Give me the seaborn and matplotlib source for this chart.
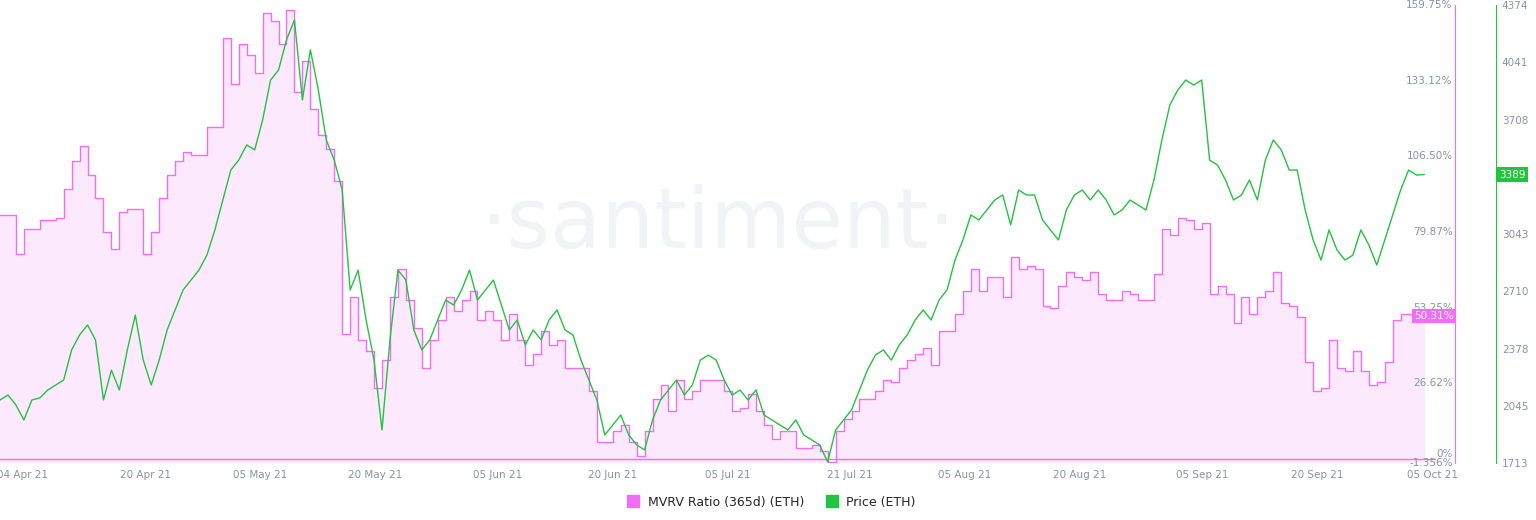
import numpy as np
import pandas as pd
import matplotlib
matplotlib.use('Agg')
import matplotlib.pyplot as plt
import matplotlib.transforms as mtransforms
import seaborn as sns
from matplotlib.lines import Line2D

# ---- data ----
mvrv = [86, 86, 72, 81, 81, 84, 84, 85,
        95, 105, 110, 100, 92, 80, 74, 87, 88, 88, 72, 80, 92, 100, 105, 108, 107, 107, 117, 117,
        148, 132, 146, 142, 136, 157, 154, 146, 158, 129, 140, 123, 114, 109, 98, 44, 57, 42, 38, 25,
        35, 57, 67, 56, 46, 32, 42, 49, 57, 52, 56, 59, 49, 52, 49, 42, 51, 42, 33, 37, 45, 40, 42,
        32, 32, 32, 24, 6, 6, 10, 12, 6, 1, 10, 21, 26, 17, 28, 21, 24, 28, 28, 28, 24, 17, 18, 23,
        17, 12, 7, 10, 10, 4, 4, 5, 3, -1, 10, 14, 17, 21, 21, 24, 28, 27, 32, 35, 37, 39, 33, 45, 45,
        51, 59, 67, 59, 64, 64, 57, 71, 67, 68, 67, 54, 53, 61, 66, 64, 63, 66, 58, 56, 56, 59, 58, 56,
        56, 65, 81, 79, 85, 84, 81, 83, 58, 61, 58, 48, 57, 51, 57, 59, 66, 55, 54, 50, 34, 24, 25, 42,
        32, 31, 38, 31, 26, 27, 34, 49, 51, 51, 50.3, 50.31]
price = [2079, 2108, 2050, 1963, 2079, 2091, 2137, 2166, 2195, 2370, 2457, 2515, 2428, 2079, 2253,
         2137, 2370, 2573, 2311, 2166, 2311, 2486, 2602, 2718, 2776, 2834, 2921, 3067, 3241, 3415,
         3473, 3561, 3532, 3706, 3938, 3996, 4171, 4287, 3822, 4113, 3880, 3590, 3473, 3299, 2718,
         2834, 2544, 2311, 1905, 2428, 2834, 2776, 2486, 2370, 2428, 2544, 2660, 2631, 2718, 2834,
         2660, 2718, 2776, 2631, 2486, 2544, 2399, 2486, 2428, 2544, 2602, 2486, 2457, 2311, 2195,
         2079, 1876, 1934, 1992, 1876, 1818, 1789, 1963, 2079, 2137, 2195, 2108, 2166, 2311, 2340,
         2311, 2195, 2108, 2137, 2079, 2137, 1992, 1963, 1934, 1905, 1963, 1876, 1847, 1818, 1719,
         1905, 1963, 2021, 2137, 2253, 2340, 2370, 2311, 2399, 2457, 2544, 2602, 2544, 2660, 2718,
         2892, 3009, 3154, 3125, 3183, 3241, 3270, 3096, 3299, 3270, 3270, 3125, 3067, 3009, 3183,
         3270, 3299, 3241, 3299, 3241, 3154, 3183, 3241, 3212, 3183, 3357, 3590, 3793, 3880, 3938,
         3909, 3938, 3473, 3444, 3357, 3241, 3270, 3357, 3241, 3473, 3590, 3532, 3415, 3415, 3183,
         3009, 2892, 3067, 2951, 2892, 2921, 3067, 2980, 2863, 3009, 3154, 3299, 3415, 3386, 3389]
dates = pd.date_range('2021-04-01', '2021-10-04', periods=len(mvrv))
x_ticks = ['2021-04-04', '2021-04-20', '2021-05-05', '2021-05-20', '2021-06-05', '2021-06-20',
           '2021-07-05', '2021-07-21', '2021-08-05', '2021-08-20', '2021-09-05', '2021-09-20', '2021-10-05']
mvrv_ticks = [-1.356, 0, 26.62, 53.25, 79.87, 106.50, 133.12, 159.75]
mvrv_labels = ['-1.356%', '0%', '26.62%', '53.25%', '79.87%', '106.50%', '133.12%', '159.75%']
price_ticks = [1713, 2045, 2378, 2710, 3043, 3376, 3708, 4041, 4374]

df = pd.DataFrame({'date': dates, 'mvrv': mvrv, 'price': price})

PINK = '#f26cf5'
FILL = '#fde9fd'
GREEN = '#22c33f'
GREY = '#8a93a6'

sns.set_style('white')
fig = plt.figure(figsize=(15.36, 5.2), dpi=100)
ax = fig.add_axes([0.0, 57 / 520, 1436 / 1536, 458 / 520])
ax2 = ax.twinx()

ax.fill_between(df['date'], df['mvrv'], -1.356, step='post', color=FILL, lw=0)
sns.lineplot(data=df, x='date', y='mvrv', ax=ax, color=PINK, lw=1, drawstyle='steps-post')
ax.axhline(0, color=PINK, lw=1)
sns.lineplot(data=df, x='date', y='price', ax=ax2, color=GREEN, lw=1)

ax.set_xlim(dates[0], pd.Timestamp('2021-10-05 12:00'))
ax.set_ylim(-1.356, 159.75)
ax2.set_ylim(1713, 4374)

for a in (ax, ax2):
    a.set_xlabel('')
    a.set_ylabel('')
    for s in a.spines.values():
        s.set_visible(False)

ax.set_xticks(pd.to_datetime(x_ticks))
ax.set_xticklabels([pd.Timestamp(d).strftime('%d %b %y') for d in x_ticks], fontsize=7.5, color=GREY)
ax.tick_params(axis='x', length=0, pad=5)

# MVRV axis: pink spine, labels drawn on top of everything, left of the spine
ax.yaxis.tick_right()
ax.spines['right'].set_visible(True)
ax.spines['right'].set_position(('axes', 1.0135))
ax.spines['right'].set_color(PINK)
ax.set_yticks(mvrv_ticks)
ax.set_yticklabels([])
ax.tick_params(axis='y', length=0)
mtrans = mtransforms.blended_transform_factory(ax2.transAxes, ax.transData)
for v, lab in zip(mvrv_ticks, mvrv_labels):
    va = 'bottom' if v == 0 else 'center'
    ax2.text(1.0115, v, lab, transform=mtrans, ha='right', va=va, fontsize=7.5,
             color=GREY, zorder=8, clip_on=False)

ax2.spines['right'].set_visible(True)
ax2.spines['right'].set_position(('axes', 1.042))
ax2.spines['right'].set_color(GREEN)
ax2.set_yticks(price_ticks)
ax2.set_yticklabels([str(v) if v != 3376 else '' for v in price_ticks], fontsize=7.5, color=GREY)
ax2.tick_params(axis='y', length=0, pad=4)

# last-value badges
ax2.text(1.0125, 50.31, '50.31%', transform=mtrans, ha='right', va='center', fontsize=7.5,
         color='white', zorder=10, clip_on=False,
         bbox=dict(boxstyle='square,pad=0.2', fc=PINK, ec='none'))
ax2.text(1.044, 3389, '3389', transform=ax2.get_yaxis_transform(), ha='left', va='center',
         fontsize=7.5, color='white', zorder=10, clip_on=False,
         bbox=dict(boxstyle='square,pad=0.25', fc=GREEN, ec='none'))

# watermark
ax.text(0.5, 0.52, '·santiment·', transform=ax.transAxes, ha='center', va='center',
        fontsize=60, color='#e9ebf2', alpha=0.6, zorder=0)

# legend
handles = [Line2D([], [], marker='s', ls='', color=PINK, markersize=8),
           Line2D([], [], marker='s', ls='', color=GREEN, markersize=8)]
fig.legend(handles, ['MVRV Ratio (365d) (ETH)', 'Price (ETH)'], loc='lower center',
           bbox_to_anchor=(0.5, 0.0), ncol=2, frameon=False, fontsize=9,
           handletextpad=0.2, columnspacing=1.2)

fig.savefig('out.png', dpi=100)
